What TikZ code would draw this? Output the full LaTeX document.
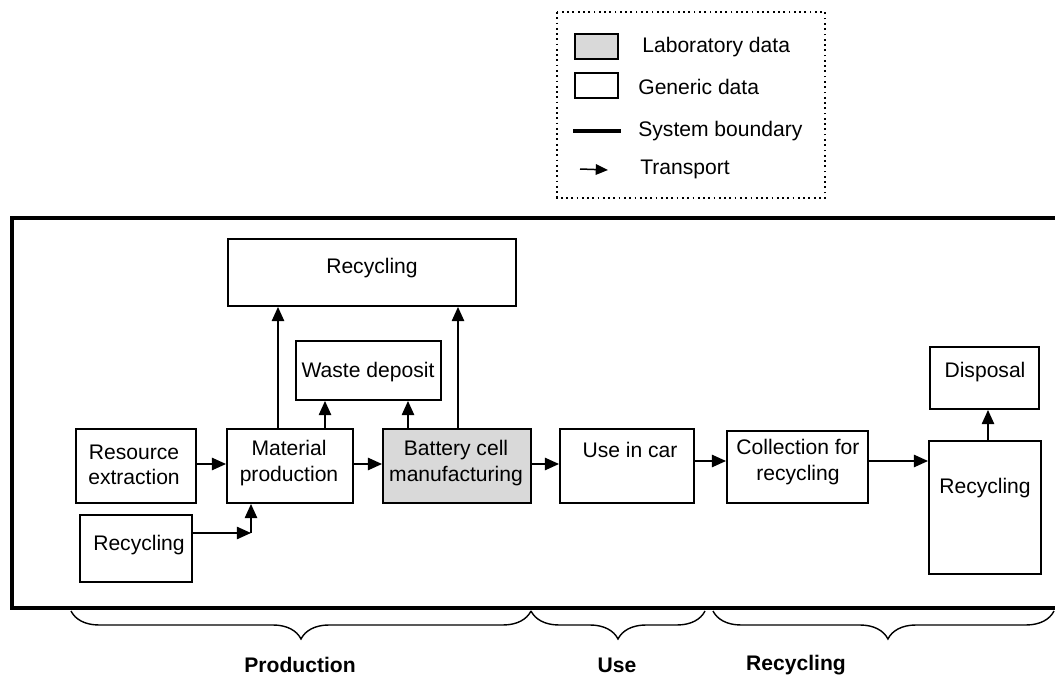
\documentclass[tikz,border=0pt]{standalone}
\usepackage{fontspec}
\setmainfont{Liberation Sans}
\usetikzlibrary{arrows.meta,fit,decorations.pathreplacing}
\definecolor{labgray}{HTML}{D9D9D9}
\begin{document}
\begin{tikzpicture}[x=0.02cm,y=-0.02cm,
  box/.style={draw,line width=1.1pt,inner sep=0pt},
  lbl/.style={font=\fontsize{12}{14.5}\selectfont,align=center,inner sep=0pt},
  flow/.style={line width=0.85pt,-{Triangle[length=8pt,width=7pt]}},
  brc/.style={line width=0.8pt,decorate,decoration={brace,mirror,amplitude=0.56cm,aspect=0.5}},
  phase/.style={font=\fontsize{12}{14}\selectfont\bfseries}]
\useasboundingbox (0,0) rectangle (1055,675);
% legend
\draw[dotted,line width=1pt] (557,12) rectangle (825,198);
\node[box,fill=labgray,fit={(575,34) (618,59)}] (lg1) {};
\node[lbl,anchor=west] (lt1) at (642,47) {Laboratory data};
\node[box,fit={(575,73) (618,98)}] (lg2) {};
\node[lbl,anchor=west] (lt2) at (638,87) {Generic data};
\coordinate (ls1) at (573,131); \coordinate (ls2) at (621,131);
\draw[line width=2.3pt] (ls1) -- (ls2);
\node[lbl,anchor=west] (lt3) at (638,131) {System boundary};
\coordinate (la1) at (580,169); \coordinate (la2) at (608,170);
\draw[line width=0.85pt,-{Triangle[length=7pt,width=6pt]}] (la1) -- (la2);
\node[lbl,anchor=west] (lt4) at (640,169) {Transport};
% system boundary
\draw[line width=2.3pt] (1060,218) -| (12,608) -- (1060,608);
% boxes
\node[box,fit={(228,239) (516,306)}] (rtop) {};
\node[lbl] at (372,268) {Recycling};
\node[box,fit={(296,341) (441,400)}] (waste) {};
\node[lbl] at (368,372) {Waste deposit};
\node[box,fit={(76,429) (196,503)}] (res) {};
\node[lbl] at (134,465) {Resource\\extraction};
\node[box,fit={(227,429) (353,503)}] (mat) {};
\node[lbl] at (289,463) {Material\\production};
\node[box,fill=labgray,fit={(383,429) (531,503)}] (bat) {};
\node[lbl] at (456,463) {Battery cell\\manufacturing};
\node[box,fit={(80,515) (192,582)}] (rec2) {};
\node[lbl] at (139,545) {Recycling};
\node[box,fit={(560,429) (694,503)}] (use) {};
\node[lbl] at (630,450) {Use in car};
\node[box,fit={(727,431) (868,503)}] (coll) {};
\node[lbl] at (798,462) {Collection for\\recycling};
\node[box,fit={(929,441) (1041,574)}] (rec3) {};
\node[lbl] at (985,488) {Recycling};
\node[box,fit={(930,347) (1039,409)}] (disp) {};
\node[lbl] at (985,372) {Disposal};
% flows
\draw[flow] (res.east |- 0,464) -- (mat.west |- 0,464);
\draw[flow] (mat.east |- 0,464) -- (bat.west |- 0,464);
\draw[flow] (bat.east |- 0,464) -- (use.west |- 0,464);
\draw[flow] (use.east |- 0,461) -- (coll.west |- 0,461);
\draw[flow] (coll.east |- 0,461) -- (rec3.west |- 0,461);
\coordinate (j) at (251,533);
\draw[flow] (rec2.east |- j) -- (j);
\draw[flow] (j) -- (mat.south -| j);
\draw[flow] (mat.north -| 278,0) -- (rtop.south -| 278,0);
\draw[flow] (mat.north -| 325,0) -- (waste.south -| 325,0);
\draw[flow] (bat.north -| 408,0) -- (waste.south -| 408,0);
\draw[flow] (bat.north -| 458,0) -- (rtop.south -| 458,0);
\draw[flow] (rec3.north -| 988,0) -- (disp.south -| 988,0);
% phases
\coordinate (b1) at (71,611); \coordinate (b2) at (531,611);
\coordinate (b3) at (705,611); \coordinate (b4) at (713,611);
\coordinate (b5) at (1054,611);
\draw[brc] (b1) -- (b2);
\draw[brc] (b2) -- (b3);
\draw[brc,decoration={aspect=0.513}] (b4) -- (b5);
\node[phase] (p1) at (300,665) {Production};
\node[phase] (p2) at (617,665) {Use};
\node[phase] (p3) at (796,665) {Recycling};
\end{tikzpicture}
\end{document}
